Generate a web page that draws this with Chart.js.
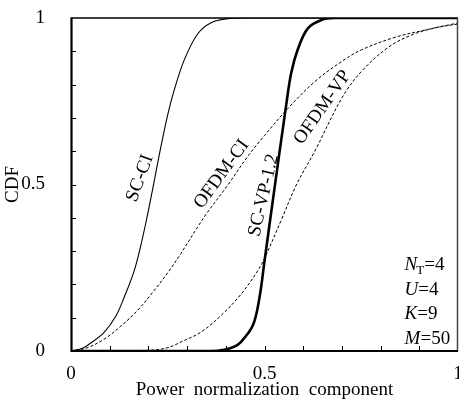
<!DOCTYPE html>
<html>
<head>
<meta charset="utf-8">
<script src="https://cdn.jsdelivr.net/npm/chart.js@4"></script>
<style>
html,body{margin:0;padding:0;background:#fff;}
#wrap{width:459px;height:399px;}
</style>
</head>
<body>
<div id="wrap"><canvas id="c" width="459" height="399"></canvas></div>
<script>
// ---- data ----
const xTickLabels = [0, 0.5, 1];
const yTickLabels = [0, 0.5, 1];
const xTitle = 'Power  normalization  component';
const yTitle = 'CDF';

const scciX = [0, 0.03, 0.051, 0.085, 0.116, 0.137, 0.163, 0.18, 0.197, 0.21, 0.23, 0.25, 0.267, 0.293, 0.327, 0.362, 0.405, 0.45, 1];
const scciY = [0, 0.008, 0.024, 0.055, 0.105, 0.16, 0.24, 0.315, 0.405, 0.48, 0.6, 0.71, 0.785, 0.875, 0.952, 0.986, 0.998, 1, 1];

const ofdmciX = [0, 0.04, 0.085, 0.129, 0.172, 0.215, 0.25, 0.284, 0.327, 0.353, 0.405, 0.457, 0.5, 0.561, 0.63, 0.699, 0.75, 0.837, 0.923, 1];
const ofdmciY = [0, 0.009, 0.035, 0.075, 0.122, 0.182, 0.235, 0.293, 0.372, 0.417, 0.498, 0.585, 0.647, 0.729, 0.809, 0.869, 0.904, 0.942, 0.966, 0.985];

const scvpX = [0, 0.36, 0.396, 0.42, 0.439, 0.47, 0.487, 0.5, 0.526, 0.555, 0.569, 0.587, 0.612, 0.647, 0.68, 1];
const scvpY = [0, 0, 0.004, 0.012, 0.027, 0.077, 0.16, 0.27, 0.49, 0.73, 0.835, 0.909, 0.969, 0.994, 1, 1];

const ofdmvpX = [0, 0.2, 0.25, 0.284, 0.336, 0.388, 0.439, 0.482, 0.5, 0.544, 0.582, 0.63, 0.70, 0.75, 0.82, 0.88, 0.94, 1];
const ofdmvpY = [0, 0.002, 0.01, 0.027, 0.057, 0.107, 0.17, 0.24, 0.278, 0.395, 0.498, 0.6, 0.76, 0.839, 0.912, 0.949, 0.97, 0.982];

const curveLabels = ['SC-CI', 'OFDM-CI', 'SC-VP-1.2', 'OFDM-VP'];
const paramNames = ['N', 'U', 'K', 'M'];
const paramSubs = ['T', '', '', ''];
const paramValues = ['4', '4', '9', '50'];

// ---- build ----
const pts = (xs, ys) => xs.map((x, i) => ({x: x, y: ys[i]}));
const FONT = '"Liberation Serif", "Times New Roman", serif';

const labelPlacement = [
  {x: 0.178, y: 0.519, rot: -70},
  {x: 0.389, y: 0.531, rot: -54},
  {x: 0.498, y: 0.468, rot: -77},
  {x: 0.650, y: 0.732, rot: -55}
];
const paramPlacement = {x: 0.862, y0: 0.242, dy: 0.0735};

const decor = {
  id: 'decor',
  afterDraw(chart) {
    const ctx = chart.ctx;
    const xs = chart.scales.x, ys = chart.scales.y;
    const a = chart.chartArea;
    ctx.save();
    ctx.strokeStyle = '#000';
    ctx.lineWidth = 1.5;
    ctx.beginPath();
    ctx.moveTo(a.left, a.top); ctx.lineTo(a.right, a.top);
    ctx.stroke();
    ctx.strokeStyle = '#444';
    ctx.beginPath();
    ctx.moveTo(a.right - 0.5, a.top); ctx.lineTo(a.right - 0.5, a.bottom);
    ctx.stroke();
    ctx.strokeStyle = '#000';
    ctx.lineWidth = 2.2;
    ctx.beginPath();
    ctx.moveTo(a.left + 0.5, a.top - 0.5); ctx.lineTo(a.left + 0.5, a.bottom + 1);
    ctx.moveTo(a.left - 0.5, a.bottom); ctx.lineTo(a.right, a.bottom);
    ctx.stroke();
    ctx.lineWidth = 1;
    ctx.beginPath();
    for (let i = 1; i < 10; i++) {
      const v = i / 10;
      const px = Math.round(xs.getPixelForValue(v)) + 0.5;
      ctx.moveTo(px, a.bottom); ctx.lineTo(px, a.bottom - 5);
      const py = Math.round(ys.getPixelForValue(v)) + 0.5;
      ctx.moveTo(a.left, py); ctx.lineTo(a.left + 5, py);
    }
    ctx.stroke();
    ctx.fillStyle = '#000';
    ctx.font = '19px ' + FONT;
    ctx.textAlign = 'center';
    ctx.textBaseline = 'middle';
    curveLabels.forEach((t, i) => {
      const p = labelPlacement[i];
      ctx.save();
      ctx.translate(xs.getPixelForValue(p.x), ys.getPixelForValue(p.y));
      ctx.rotate(p.rot * Math.PI / 180);
      ctx.fillText(t, 0, 0);
      ctx.restore();
    });
    ctx.textAlign = 'left';
    ctx.textBaseline = 'alphabetic';
    paramNames.forEach((n, i) => {
      let x = xs.getPixelForValue(paramPlacement.x);
      const y = ys.getPixelForValue(paramPlacement.y0 - i * paramPlacement.dy);
      ctx.font = 'italic 19px ' + FONT;
      ctx.fillText(n, x, y);
      x += ctx.measureText(n).width;
      if (paramSubs[i]) {
        ctx.font = '13px ' + FONT;
        ctx.fillText(paramSubs[i], x - 1, y + 4);
        x += ctx.measureText(paramSubs[i]).width - 1;
      }
      ctx.font = '19px ' + FONT;
      ctx.fillText('=' + paramValues[i], x, y);
    });
    ctx.restore();
  }
};

const lineDs = (label, data, width, dash) => ({
  label: label,
  data: data,
  borderColor: '#000',
  borderWidth: width,
  borderDash: dash,
  pointRadius: 0,
  fill: false,
  tension: 0.35,
  showLine: true
});

new Chart(document.getElementById('c'), {
  type: 'scatter',
  data: {
    datasets: [
      lineDs('SC-CI', pts(scciX, scciY), 1.1, []),
      lineDs('OFDM-CI', pts(ofdmciX, ofdmciY), 1, [3, 2]),
      lineDs('SC-VP-1.2', pts(scvpX, scvpY), 2.6, []),
      lineDs('OFDM-VP', pts(ofdmvpX, ofdmvpY), 1, [3, 2])
    ]
  },
  options: {
    responsive: false,
    animation: false,
    events: [],
    layout: {padding: {top: 18, right: 1, left: 0, bottom: 0}},
    plugins: {legend: {display: false}, tooltip: {enabled: false}},
    scales: {
      x: {
        type: 'linear', min: 0, max: 1,
        grid: {display: false}, border: {display: false},
        ticks: {
          stepSize: 0.1, autoSkip: false, maxRotation: 0, padding: 4,
          color: '#000', font: {family: FONT, size: 19},
          callback: v => xTickLabels.some(t => Math.abs(t - v) < 1e-9) ? String(+v.toFixed(1)) : ''
        },
        title: {display: true, text: xTitle, color: '#000', font: {family: FONT, size: 19, lineHeight: 1}, padding: {top: 0, bottom: -1}},
        afterFit: s => { s.height = 48; s.paddingLeft = 0; s.paddingRight = 0; }
      },
      y: {
        type: 'linear', min: 0, max: 1,
        grid: {display: false}, border: {display: false},
        ticks: {
          stepSize: 0.1, autoSkip: false, padding: 18,
          color: '#000', font: {family: FONT, size: 19},
          callback: v => yTickLabels.some(t => Math.abs(t - v) < 1e-9) ? String(+v.toFixed(1)) : ''
        },
        title: {display: true, text: yTitle, color: '#000', font: {family: FONT, size: 19}, padding: {top: 2, bottom: 0}},
        afterFit: s => { s.width = 71; s.paddingTop = 0; s.paddingBottom = 0; }
      }
    }
  },
  plugins: [decor]
});
</script>
</body>
</html>
